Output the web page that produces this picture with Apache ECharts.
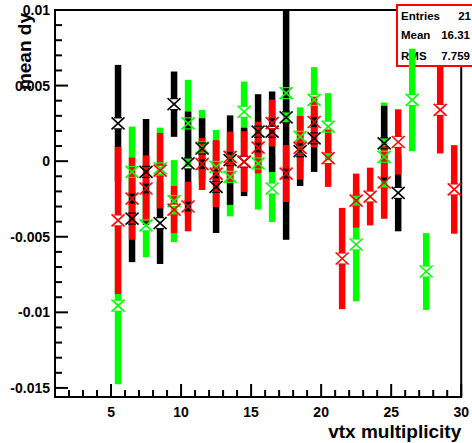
<!DOCTYPE html>
<html><head><meta charset="utf-8">
<script src="https://cdn.jsdelivr.net/npm/echarts@6/dist/echarts.min.js"></script>
<style>html,body{margin:0;padding:0;background:#fff}#c{width:472px;height:443px}</style>
</head><body><div id="c"></div>
<script>
// ---- data ----
const bins = [5.5,6.5,7.5,8.5,9.5,10.5,11.5,12.5,13.5,14.5,15.5,16.5,17.5,18.5,19.5,20.5,21.5,22.5,23.5,24.5,25.5,26.5,27.5,28.5,29.5];
const blackMean = [0.0025,-0.0038,-0.00071,-0.0041,0.00377,-0.00015,0.00084,-0.0017,0.00007,-0.00005,0.00195,0.00195,0.0029,0.00066,0.00151,null,null,null,null,0.00118,-0.0021,null,null,null,null];
const blackErr  = [0.00387,0.00288,0.0035,0.0027,0.00216,0.00343,0.002,0.00305,0.00296,0.00226,0.00248,0.00266,0.0081,0.0023,0.00222,null,null,null,null,0.00248,0.00254,null,null,null,null];
const redMean   = [-0.00392,-0.00248,-0.00181,-0.00063,-0.0032,-0.003,-0.00019,-0.00082,0.00029,-0.00003,0.0009,0.00252,-0.00082,0.00088,0.00259,0.0002,-0.00644,-0.00261,-0.00234,-0.00141,0.00127,null,null,0.00339,-0.00187];
const redErr    = [0.00487,0.00272,0.00219,0.0025,0.00156,0.00164,0.00172,0.00221,0.00166,0.00201,0.00171,0.00155,0.00188,0.0021,0.00168,0.0019,0.00335,0.00179,0.00191,0.0024,0.00216,null,null,0.00288,0.00293];
const greenMean = [-0.00956,-0.00071,-0.00425,-0.00048,-0.00264,0.0025,0.0009,-0.00038,-0.00104,0.00327,-0.00015,-0.00181,0.0045,0.00161,0.00405,0.00228,null,-0.00551,null,0.00029,null,0.00405,-0.0073,null,null];
const greenErr  = [0.0052,0.003,0.0021,0.0027,0.00271,0.00288,0.00249,0.00244,0.00261,0.002,0.00305,0.00222,0.002,0.00195,0.00217,0.00222,null,0.00376,null,0.00359,null,0.00339,0.00254,null,null];

const xMajorTicks = [5,10,15,20,25,30];
const xTickLabels = ['5','10','15','20','25','30'];
const yMajorTicks = [-0.015,-0.01,-0.005,0,0.005,0.01];
const yTickLabels = ['-0.015','-0.01','-0.005','0','0.005','0.01'];
const statsLabels = ['Entries','Mean','RMS'];
const statsValues = ['21','16.31','7.759'];
const xTitle = 'vtx multiplicity';
const yTitle = 'mean dy';
const X_MIN = 1, X_MAX = 30, Y_MIN = -0.0156, Y_MAX = 0.01;

// minor tick positions
const xMinorTicks = [];
for (let i = 1; i <= 30; i++) if (i % 5 !== 0) xMinorTicks.push(i);
const yMinorTicks = [];
for (let i = -15; i <= 10; i++) if (i % 5 !== 0) yMinorTicks.push(i / 1000);

const FONT = "'Liberation Sans', Arial, sans-serif";

function toData(mean, err) {
  const out = [];
  bins.forEach((b, i) => { if (mean[i] !== null) out.push([b, mean[i], err[i]]); });
  return out;
}

function barSeries(name, color, mean, err, z) {
  return {
    type: 'custom', name: name, z: z, clip: true, silent: true,
    data: toData(mean, err),
    renderItem: function (params, api) {
      const x = api.value(0), m = api.value(1), e = api.value(2);
      const c = api.coord([x, m]), t = api.coord([x, m + e]), b = api.coord([x, m - e]);
      const w = 6.5, g = 5.5, ch = [];
      if (c[1] - g > t[1]) ch.push({type: 'rect', shape: {x: c[0] - w / 2, y: t[1], width: w, height: c[1] - g - t[1]}, style: {fill: color}});
      if (b[1] > c[1] + g) ch.push({type: 'rect', shape: {x: c[0] - w / 2, y: c[1] + g, width: w, height: b[1] - c[1] - g}, style: {fill: color}});
      return {type: 'group', children: ch};
    }
  };
}
function markerSeries(name, color, mean, err, z) {
  return {
    type: 'custom', name: name + ' marker', z: z, clip: true, silent: true,
    data: toData(mean, err),
    renderItem: function (params, api) {
      const c = api.coord([api.value(0), api.value(1)]);
      const hw = 6.5, hh = 6, cw = 4;
      return {type: 'group', children: [
        {type: 'line', shape: {x1: c[0]-hw, y1: c[1]-hh, x2: c[0]+hw, y2: c[1]+hh}, style: {stroke: color, lineWidth: 1.6}},
        {type: 'line', shape: {x1: c[0]-hw, y1: c[1]+hh, x2: c[0]+hw, y2: c[1]-hh}, style: {stroke: color, lineWidth: 1.6}},
        {type: 'line', shape: {x1: c[0]-cw, y1: c[1]-hh+0.5, x2: c[0]+cw, y2: c[1]-hh+0.5}, style: {stroke: color, lineWidth: 1.2}},
        {type: 'line', shape: {x1: c[0]-cw, y1: c[1]+hh-0.5, x2: c[0]+cw, y2: c[1]+hh-0.5}, style: {stroke: color, lineWidth: 1.2}}
      ]};
    }
  };
}
// axis ticks (inside, ROOT style), placed through the axis scales
const tickData = xMajorTicks.map(v => [v, Y_MIN, 13, 0])
  .concat(xMinorTicks.map(v => [v, Y_MIN, 7, 0]))
  .concat(yMajorTicks.map(v => [X_MIN, v, 13, 1]))
  .concat(yMinorTicks.map(v => [X_MIN, v, 7, 1]));
const tickSeries = {
  type: 'custom', name: 'ticks', z: 9, clip: false, silent: true,
  data: tickData,
  renderItem: function (params, api) {
    const p = api.coord([api.value(0), api.value(1)]);
    const len = api.value(2), horiz = api.value(3) === 1;
    return {type: 'rect', shape: horiz ? {x: p[0], y: p[1] - 1, width: len, height: 2} : {x: p[0] - 1, y: p[1] - len, width: 2, height: len},
      style: {fill: '#000'}};
  }
};

const chart = echarts.init(document.getElementById('c'), null, {renderer: 'svg'});
const axisLabelStyle = {fontSize: 14, fontWeight: 'bold', color: '#000', fontFamily: FONT};
chart.setOption({
  backgroundColor: '#fff',
  animation: false,
  grid: {left: 55, top: 10, width: 415, height: 387, show: true, borderColor: '#000', borderWidth: 2, backgroundColor: 'transparent'},
  xAxis: {type: 'value', min: X_MIN, max: X_MAX, position: 'bottom',
     axisLine: {show: false, onZero: false}, splitLine: {show: false}, axisTick: {show: false},
     axisLabel: Object.assign({customValues: xMajorTicks, margin: 8,
       formatter: v => xTickLabels[xMajorTicks.indexOf(v)]}, axisLabelStyle),
     name: xTitle, nameLocation: 'end', nameGap: 0,
     nameTextStyle: {fontSize: 19, fontWeight: 'bold', color: '#000', fontFamily: FONT, align: 'right', verticalAlign: 'top', padding: [25, 0, 0, 0]}},
  yAxis: {type: 'value', min: Y_MIN, max: Y_MAX, position: 'left',
     axisLine: {show: false, onZero: false}, splitLine: {show: false}, axisTick: {show: false},
     axisLabel: Object.assign({customValues: yMajorTicks, margin: 5,
       formatter: v => yTickLabels[yMajorTicks.findIndex(t => Math.abs(t - v) < 1e-9)]}, axisLabelStyle)},
  series: [
    barSeries('green', '#00ff00', greenMean, greenErr, 2),
    barSeries('black', '#000000', blackMean, blackErr, 3),
    barSeries('red', '#ff0000', redMean, redErr, 4),
    markerSeries('green', '#00ff00', greenMean, greenErr, 5),
    markerSeries('black', '#000000', blackMean, blackErr, 6),
    markerSeries('red', '#ff0000', redMean, redErr, 7),
    tickSeries
  ],
  graphic: [
    {type: 'text', x: 24, y: 13, rotation: Math.PI / 2, z: 10,
     style: {text: yTitle, font: 'bold 19px ' + FONT, fill: '#000', align: 'right', verticalAlign: 'middle'}},
    {type: 'group', z: 20, children: [
      {type: 'rect', shape: {x: 397, y: 5, width: 78, height: 61}, style: {fill: '#fff', stroke: '#ff0000', lineWidth: 2}},
      {type: 'text', x: 401, y: 16, style: {text: statsLabels[0], font: 'bold 11.5px ' + FONT, fill: '#000', verticalAlign: 'middle'}},
      {type: 'text', x: 401, y: 35, style: {text: statsLabels[1], font: 'bold 11.5px ' + FONT, fill: '#000', verticalAlign: 'middle'}},
      {type: 'text', x: 401, y: 56, style: {text: statsLabels[2], font: 'bold 11.5px ' + FONT, fill: '#000', verticalAlign: 'middle'}},
      {type: 'text', x: 471, y: 16, style: {text: statsValues[0], font: 'bold 11.5px ' + FONT, fill: '#000', align: 'right', verticalAlign: 'middle'}},
      {type: 'text', x: 470, y: 35, style: {text: statsValues[1], font: 'bold 11.5px ' + FONT, fill: '#000', align: 'right', verticalAlign: 'middle'}},
      {type: 'text', x: 470, y: 56, style: {text: statsValues[2], font: 'bold 11.5px ' + FONT, fill: '#000', align: 'right', verticalAlign: 'middle'}}
    ]}
  ]
});
</script></body></html>
